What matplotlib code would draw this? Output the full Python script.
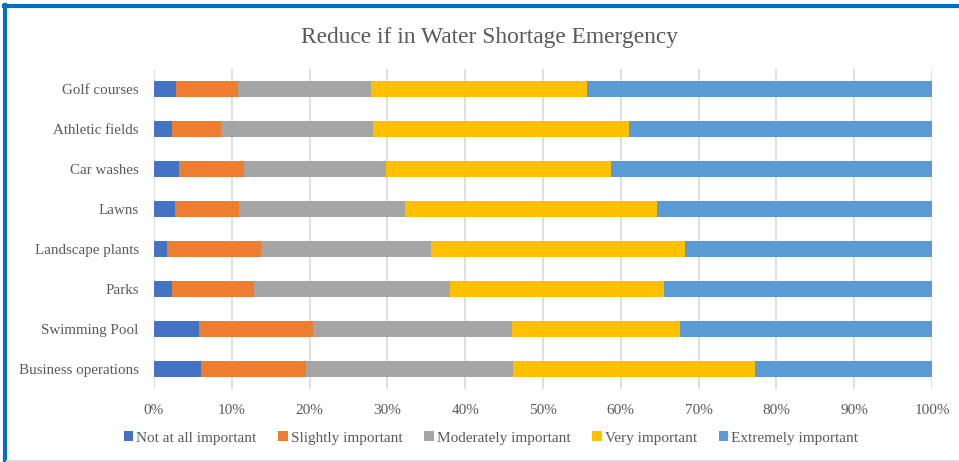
import matplotlib.pyplot as plt
import numpy as np
from matplotlib.lines import Line2D

plt.rcParams["font.family"] = ["Liberation Serif", "DejaVu Serif"]

# Anteile je Antwortkategorie (in %), von oben nach unten
kategorien = ["Golf courses", "Athletic fields", "Car washes", "Lawns",
              "Landscape plants", "Parks", "Swimming Pool", "Business operations"]
stufen = ["Not at all important", "Slightly important", "Moderately important",
          "Very important", "Extremely important"]

not_at_all = [2.8, 2.3, 3.2, 2.7, 1.7, 2.3, 5.8, 6.0]
slightly = [8.0, 6.3, 8.4, 8.2, 12.1, 10.5, 14.7, 13.5]
moderately = [17.1, 19.6, 18.2, 21.3, 21.8, 25.3, 25.5, 26.7]
very = [27.8, 32.9, 28.9, 32.5, 32.6, 27.5, 21.6, 31.0]
extremely = [44.3, 38.9, 41.3, 35.3, 31.8, 34.4, 32.4, 22.8]

farben = ["#4472C4", "#ED7D31", "#A5A5A5", "#FFC000", "#5B9BD5"]
grau = "#595959"

fig = plt.figure(figsize=(9.59, 4.62), dpi=100)
ax = fig.add_axes([154 / 959, 1 - 389 / 462, (932 - 154) / 959, 320 / 462])

y = np.arange(len(kategorien))
links = np.zeros(len(kategorien))
for name, werte, farbe in zip(stufen, [not_at_all, slightly, moderately, very, extremely], farben):
    ax.barh(y, werte, left=links, height=0.4, color=farbe, label=name)
    links += np.array(werte)

ax.set_xlim(0, 100)
ax.set_ylim(len(kategorien) - 0.5, -0.5)
ax.set_yticks(y)
ax.set_yticklabels(kategorien)
ax.set_xticks(np.arange(0, 101, 10))
ax.set_xticklabels([f"{v}%" for v in range(0, 101, 10)])
ax.tick_params(axis="both", length=0, labelsize=11, labelcolor=grau)
ax.tick_params(axis="y", labelsize=10.8, pad=11)
ax.tick_params(axis="x", pad=11)
ax.grid(axis="x", color="#D9D9D9", linewidth=1.2)
ax.set_axisbelow(True)
for s in ax.spines.values():
    s.set_visible(False)

fig.text(489 / 959, 1 - 37 / 462, "Reduce if in Water Shortage Emergency",
         ha="center", va="center", fontsize=16.8, color=grau)

fig.legend(loc="center", bbox_to_anchor=(491 / 959, 1 - 438 / 462), ncol=5,
           frameon=False, fontsize=11, labelcolor=grau, handlelength=0.6,
           handleheight=0.6, handletextpad=0.2, columnspacing=1.45)

# Rahmen (Auswahlrahmen links/oben, grau unten)
fig.add_artist(Line2D([5 / 959, 5 / 959], [0, 1 - 5 / 462], transform=fig.transFigure,
                      color="#0070C0", linewidth=3))
fig.add_artist(Line2D([3.5 / 959, 1], [1 - 5.5 / 462, 1 - 5.5 / 462], transform=fig.transFigure,
                      color="#0070C0", linewidth=3))
fig.add_artist(Line2D([7 / 959, 1], [1.5 / 462, 1.5 / 462], transform=fig.transFigure,
                      color="#D9D9D9", linewidth=1.5))

fig.savefig("out.png", dpi=100)
